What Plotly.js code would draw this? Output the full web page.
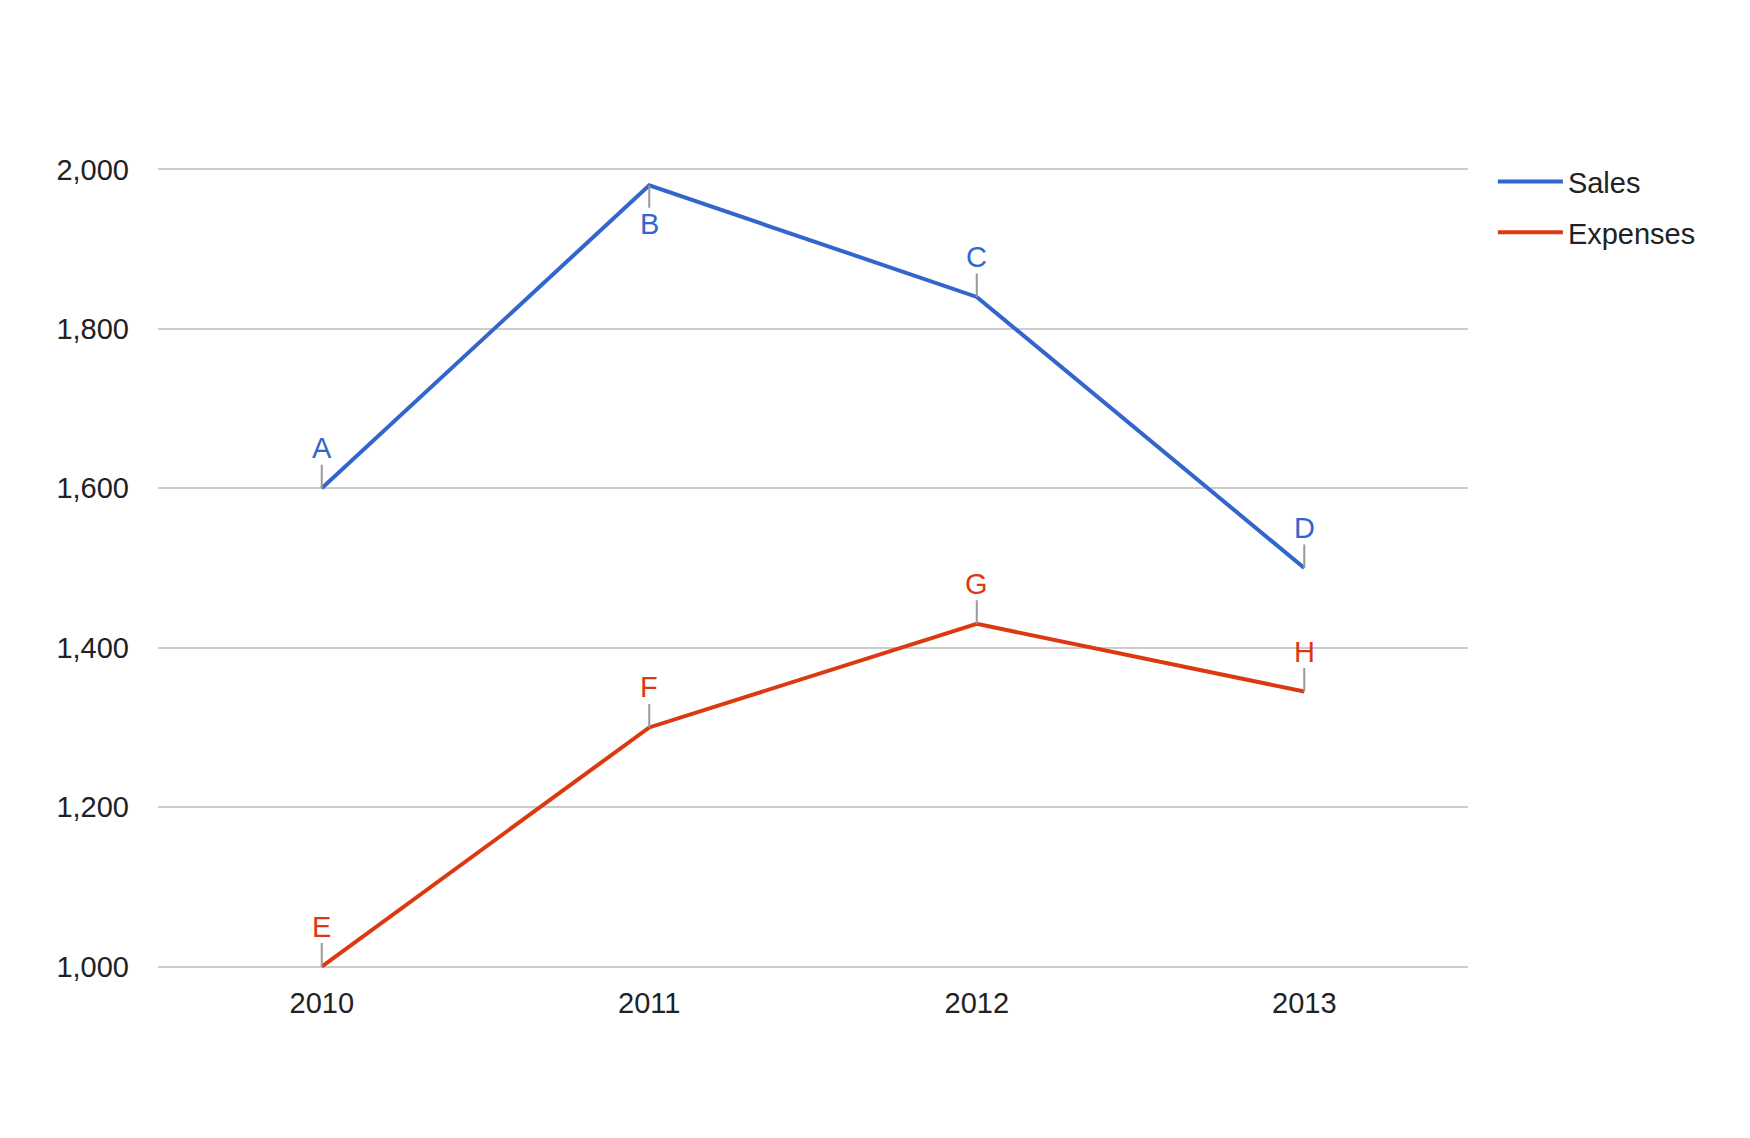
<!DOCTYPE html>
<html>
<head>
<meta charset="utf-8">
<script src="https://cdn.plot.ly/plotly-3.0.1.min.js"></script>
<style>html,body{margin:0;padding:0;background:#fff;}#chart{width:1750px;height:1138px;}</style>
</head>
<body>
<div id="chart"></div>
<script>
const years = ['2010', '2011', '2012', '2013'];
const sales = [1600, 1980, 1840, 1500];
const expenses = [1000, 1300, 1430, 1345];
const salesLabels = ['A', 'B', 'C', 'D'];
const expenseLabels = ['E', 'F', 'G', 'H'];
const salesLabelBelow = [false, true, false, false];
const expenseLabelBelow = [false, false, false, false];
const yTicks = [1000, 1200, 1400, 1600, 1800, 2000];

const BLUE = '#3366cc', RED = '#dc3912';
const FONT = 'Liberation Sans, Arial, Helvetica, sans-serif';
const FS = 29;

const traces = [
  {x: years, y: sales, name: 'Sales', type: 'scatter', mode: 'lines',
   line: {color: BLUE, width: 4}, legendgroup: 'a'},
  {x: years, y: expenses, name: 'Expenses', type: 'scatter', mode: 'lines',
   line: {color: RED, width: 4}, legendgroup: 'b'}
];

function makeAnn(ys, labels, below, color) {
  return ys.map((v, i) => ({
    x: i, y: v, xref: 'x', yref: 'y', text: labels[i],
    showarrow: true, arrowhead: 0, arrowwidth: 2, arrowcolor: '#999999',
    ax: 0, ay: below[i] ? 39 : -40, axref: 'pixel', ayref: 'pixel', borderpad: 0,
    font: {family: FONT, size: FS, color: color}
  }));
}

const annotations = makeAnn(sales, salesLabels, salesLabelBelow, BLUE)
  .concat(makeAnn(expenses, expenseLabels, expenseLabelBelow, RED));

const layout = {
  width: 1750, height: 1138,
  margin: {l: 158, r: 282, t: 167, b: 169, pad: 0},
  paper_bgcolor: '#ffffff', plot_bgcolor: '#ffffff',
  font: {family: FONT, size: FS, color: '#222222'},
  showlegend: true,
  legend: {x: 1.019, xanchor: 'left', y: 1.0135, yanchor: 'top',
           font: {family: FONT, size: FS, color: '#222222'},
           itemwidth: 65, tracegroupgap: 10, bgcolor: 'rgba(0,0,0,0)'},
  xaxis: {type: 'category', range: [-0.5, 3.5], showgrid: false, zeroline: false,
          showline: false, ticks: '', ticklabelstandoff: 14,
          tickfont: {family: FONT, size: FS, color: '#222222'}, fixedrange: true},
  yaxis: {range: [997, 2003], tickvals: yTicks, tickformat: ',d',
          showgrid: true, gridcolor: '#cccccc', gridwidth: 2, zeroline: false,
          showline: false, ticks: '', ticklabelstandoff: 28,
          tickfont: {family: FONT, size: FS, color: '#222222'}, fixedrange: true},
  annotations: annotations
};

Plotly.newPlot('chart', traces, layout, {displayModeBar: false});
</script>
</body>
</html>
